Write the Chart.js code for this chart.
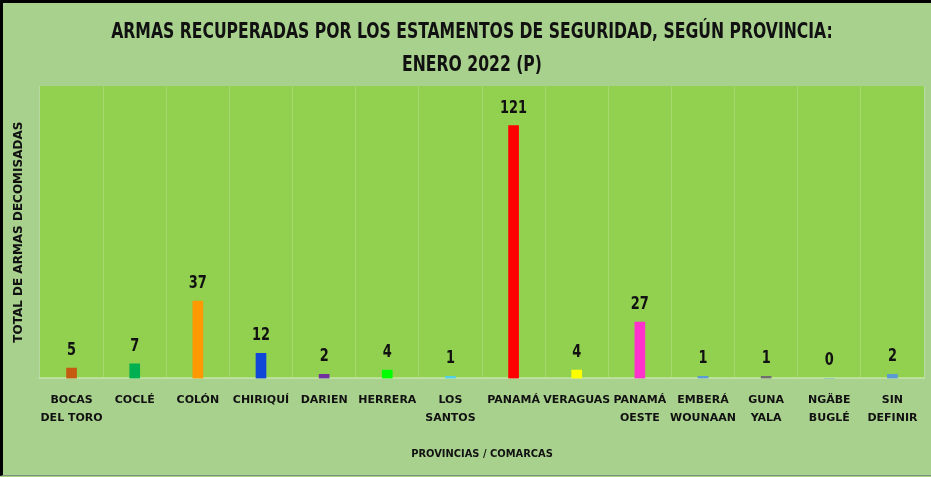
<!DOCTYPE html>
<html>
<head>
<meta charset="utf-8">
<script src="https://cdn.jsdelivr.net/npm/chart.js@4"></script>
<style>
    html, body { margin: 0; padding: 0; background: #a9d18e; overflow: hidden; }
    #wrap {
        width: 931px;
        height: 476px;
        box-sizing: border-box;
        border-left: 3px solid #000;
        border-top: 3px solid #000;
        border-bottom: 1px solid #7f8f78;
        background: #a9d18e;
        position: relative;
    }
</style>
</head>
<body>
<div id="wrap"><canvas id="armasChart"></canvas></div>
<script>
// Provincias / comarcas
const provincias = [
    ['BOCAS', 'DEL TORO'], 'COCLÉ', 'COLÓN', 'CHIRIQUÍ', 'DARIEN', 'HERRERA', ['LOS', 'SANTOS'],
    'PANAMÁ', 'VERAGUAS', ['PANAMÁ', 'OESTE'], ['EMBERÁ', 'WOUNAAN'], ['GUNA', 'YALA'],
    ['NGÄBE', 'BUGLÉ'], ['SIN', 'DEFINIR']
];

// Armas decomisadas, enero 2022
const armas = [5, 7, 37, 12, 2, 4, 1, 121, 4, 27, 1, 1, 0, 2];

const coloresBarras = [
    '#c55a11', '#00b050', '#ff9900', '#1047d8', '#7030a0', '#00ff00', '#4fd0e8',
    '#ff0000', '#ffff00', '#ff33cc', '#5b9bd5', '#6f6f6f', '#5b9bd5', '#5b9bd5'
];

const titulo = ['ARMAS RECUPERADAS POR LOS ESTAMENTOS DE SEGURIDAD, SEGÚN PROVINCIA:', 'ENERO 2022 (P)'];

const narrow = '"DejaVu Sans Condensed", "Liberation Sans", sans-serif';

// fondo verde del area de trazado
const plotBackground = {
    id: 'plotBackground',
    beforeDraw(chart) {
        const { ctx, chartArea } = chart;
        ctx.save();
        ctx.fillStyle = '#92d050';
        ctx.fillRect(chartArea.left, chartArea.top, chartArea.right - chartArea.left, chartArea.bottom - chartArea.top);
        ctx.restore();
    }
};

// titulo en letra condensada (se comprime horizontalmente)
const condensedTitle = {
    id: 'condensedTitle',
    afterDraw(chart) {
        const { ctx } = chart;
        ctx.save();
        ctx.font = 'bold 22px ' + narrow;
        ctx.fillStyle = '#111';
        ctx.textAlign = 'center';
        ctx.textBaseline = 'middle';
        const cx = 472 - 3;
        titulo.forEach((line, i) => {
            const w = ctx.measureText(line).width * 0.79;
            ctx.fillText(line, cx, 29 + i * 33, w);
        });
        ctx.restore();
    }
};

// etiquetas de valor encima de cada barra
const valueLabels = {
    id: 'valueLabels',
    afterDatasetsDraw(chart) {
        const { ctx } = chart;
        const meta = chart.getDatasetMeta(0);
        ctx.save();
        ctx.font = 'bold 18px ' + narrow;
        ctx.fillStyle = '#111';
        ctx.textAlign = 'center';
        ctx.textBaseline = 'alphabetic';
        meta.data.forEach((bar, i) => {
            const txt = String(armas[i]);
            ctx.fillText(txt, bar.x, bar.y - 13, ctx.measureText(txt).width * 0.8);
        });
        ctx.restore();
    }
};

new Chart(document.getElementById('armasChart'), {
    type: 'bar',
    data: {
        labels: provincias,
        datasets: [{
            data: armas,
            backgroundColor: coloresBarras,
            borderWidth: 0,
            barThickness: 10
        }]
    },
    options: {
        responsive: true,
        maintainAspectRatio: false,
        animation: false,
        layout: {
            padding: { left: 0, right: 7, top: 83, bottom: 14 }
        },
        plugins: {
            legend: { display: false },
            tooltip: { enabled: false },
            title: { display: false }
        },
        scales: {
            x: {
                grid: {
                    color: 'rgba(255,255,255,0.18)',
                    drawTicks: false
                },
                border: { color: 'rgba(255,255,255,0.35)', width: 2 },
                ticks: {
                    color: '#111',
                    padding: 12,
                    maxRotation: 0,
                    autoSkip: false,
                    font: { family: '"DejaVu Sans", sans-serif', size: 11, weight: 'bold', lineHeight: 1.7 }
                },
                title: {
                    display: true,
                    text: 'PROVINCIAS / COMARCAS',
                    color: '#111',
                    font: { family: narrow, size: 11, weight: 'bold', lineHeight: 1.2 },
                    padding: { top: 8, bottom: 0 }
                }
            },
            y: {
                min: 0,
                max: 140,
                grid: { display: false, drawTicks: false },
                border: { display: false },
                ticks: { display: false },
                title: {
                    display: true,
                    text: 'TOTAL DE ARMAS DECOMISADAS',
                    color: '#111',
                    font: { family: '"DejaVu Sans", sans-serif', size: 12, weight: 'bold', lineHeight: 1.2 },
                    padding: { top: 9, bottom: 13.6 }
                }
            }
        }
    },
    plugins: [plotBackground, valueLabels, condensedTitle]
});
</script>
</body>
</html>
